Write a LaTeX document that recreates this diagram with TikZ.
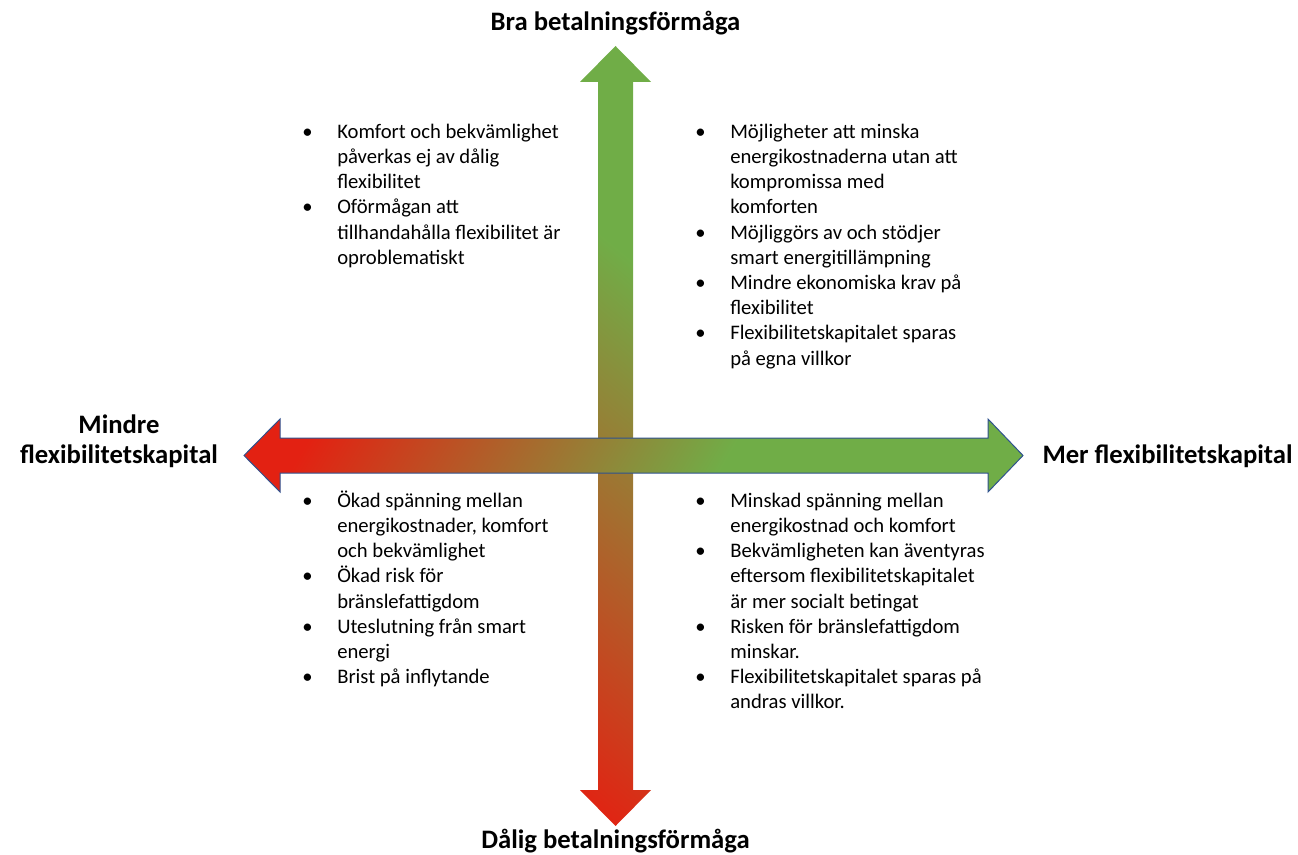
\documentclass[tikz,border=0pt]{standalone}
\usepackage{fontspec}
\setmainfont{Carlito}
\definecolor{kant}{RGB}{47,82,143}
\pgfdeclarehorizontalshading{rodgron}{100bp}{rgb(0bp)=(0.89,0.13,0.07); rgb(22bp)=(0.89,0.13,0.07); rgb(58bp)=(0.44,0.68,0.28); rgb(100bp)=(0.44,0.68,0.28)}
\pgfdeclareverticalshading{rodgronv}{100bp}{rgb(0bp)=(0.89,0.13,0.07); rgb(16bp)=(0.89,0.13,0.07); rgb(66bp)=(0.44,0.68,0.28); rgb(100bp)=(0.44,0.68,0.28)}
\newcommand{\pkt}{\makebox[26.25pt][l]{\textbullet}}
\newcommand{\fort}{\hspace*{26.25pt}}

\begin{document}
\begin{tikzpicture}[x=0.75pt,y=-0.75pt,
  rubrik/.style={font=\fontsize{20}{22.5}\selectfont\bfseries,inner sep=0pt},
  punkter/.style={font=\fontsize{15.5}{18.9}\selectfont,align=left,inner sep=0pt,anchor=north west}]
\useasboundingbox (0,0) rectangle (1298,855);
% vertikal pil
\shade[shading=rodgronv,shading angle=-40]
  (615.5,46) -- (651,82) -- (633,82) -- (633,790) -- (651,790) -- (615.5,826)
  -- (580,790) -- (598,790) -- (598,82) -- (580,82) -- cycle;
% horisontell pil
\shadedraw[shading=rodgron,shading angle=-30,draw=kant,line width=0.75pt]
  (244,455.5) -- (280,419) -- (280,438) -- (988,438) -- (988,419) -- (1023,455.5)
  -- (988,492) -- (988,473) -- (280,473) -- (280,492) -- cycle;

\node[rubrik,anchor=base] (bra) at (615.5,31) {Bra betalningsförmåga};
\node[rubrik,anchor=base] (dalig) at (615.5,848) {Dålig betalningsförmåga};
\node[rubrik,anchor=base] (mer) at (1167.5,463) {Mer flexibilitetskapital};
\node[rubrik,anchor=north,align=center] (mindre) at (119,412) {\strut Mindre\\flexibilitetskapital};

\node[punkter] (q1) at (302,120.4) {\pkt\strut Komfort och bekvämlighet\\\fort påverkas ej av dålig\\\fort flexibilitet\\
  \pkt Oförmågan att\\\fort tillhandahålla flexibilitet  är\\\fort oproblematiskt};
\node[punkter] (q2) at (695,120.4) {\pkt\strut Möjligheter att minska\\\fort energikostnaderna utan att\\\fort kompromissa med\\\fort komforten\\
  \pkt Möjliggörs av och stödjer\\\fort smart energitillämpning\\
  \pkt Mindre ekonomiska krav på\\\fort flexibilitet\\
  \pkt Flexibilitetskapitalet  sparas\\\fort på egna villkor};
\node[punkter] (q3) at (302,489.4) {\pkt\strut Ökad spänning mellan\\\fort energikostnader, komfort\\\fort och bekvämlighet\\
  \pkt Ökad risk för\\\fort bränslefattigdom\\
  \pkt Uteslutning från smart\\\fort energi\\
  \pkt Brist på inflytande};
\node[punkter] (q4) at (695,489.4) {\pkt\strut Minskad spänning mellan\\\fort energikostnad och komfort\\
  \pkt Bekvämligheten kan äventyras\\\fort eftersom flexibilitetskapitalet\\\fort är mer socialt betingat\\
  \pkt Risken för bränslefattigdom\\\fort minskar.\\
  \pkt Flexibilitetskapitalet  sparas på\\\fort andras villkor.};
\end{tikzpicture}
\end{document}
